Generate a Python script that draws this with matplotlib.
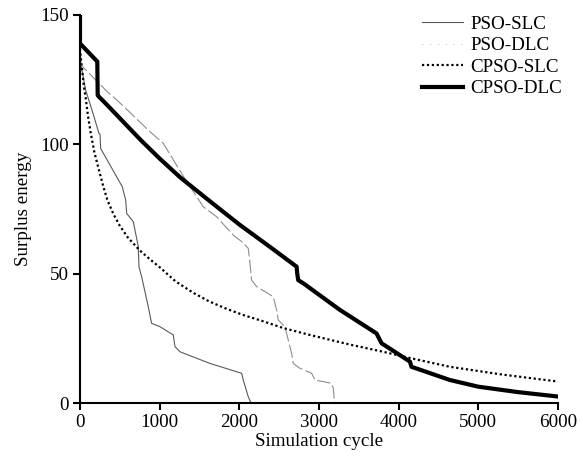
import matplotlib
matplotlib.use("Agg")
import matplotlib.pyplot as plt
from matplotlib.lines import Line2D

plt.rcParams['font.family'] = ['Liberation Serif', 'DejaVu Serif']
plt.rcParams['font.size'] = 13.7

# PSO-SLC (thin grey solid)
pso_slc_x = [0, 10, 71, 176, 238, 251, 259, 531, 573, 586, 669, 732, 740, 774, 857, 899,
             1004, 1171, 1192, 1255, 1631, 2029, 2049, 2112, 2140, 2150]
pso_slc_y = [139, 131, 121, 110.7, 104.2, 104, 98.4, 83.6, 78.5, 73.3, 70.1, 60.4, 52.7, 48.8,
             37.2, 30.8, 29.5, 26.3, 21.8, 19.8, 15.3, 11.5, 8.9, 2.4, 0.5, 0]

# PSO-DLC (grey dashed)
pso_dlc_x = [0, 5, 50, 343, 468, 878, 1045, 1300, 1547, 1715, 1924, 2029, 2112, 2140, 2154,
             2217, 2426, 2468, 2488, 2572, 2656, 2677, 2761, 2907, 2949, 3158, 3179, 3192, 3200]
pso_dlc_y = [139, 131, 129.5, 120.3, 117, 104.9, 100.4, 87.5, 75.9, 72, 64.9, 62.4, 59.8, 52,
             47.5, 45, 41.1, 35.9, 32.1, 29.5, 19.2, 15.3, 13.4, 11.5, 8.9, 7.6, 5.7, 1.2, 0]

# CPSO-SLC (dotted)
cpso_slc_x = [0, 15, 30, 50, 71, 100, 134, 180, 238, 290, 343, 420, 500, 600, 750, 880, 1000,
              1200, 1422, 1620, 1840, 2050, 2259, 2550, 2886, 3400, 3806, 4200, 4642, 5300, 6000]
cpso_slc_y = [137, 132, 128, 122, 118, 111, 104.5, 97, 90, 84, 78.5, 73, 68.5, 64, 59, 55.5,
              52.5, 47, 42.6, 39.3, 36.4, 34, 32, 29, 26.3, 22.5, 19.8, 17, 14, 11, 8.3]

# CPSO-DLC (thick black)
cpso_dlc_x = [0, 0, 217, 222, 238, 322, 761, 1000, 1255, 1590, 2000, 2400, 2719, 2727, 2739,
              2802, 3262, 3722, 3785, 4141, 4161, 4642, 5000, 5500, 6000]
cpso_dlc_y = [150, 139, 132, 119, 118.4, 115.8, 101.7, 94.5, 87.3, 79, 69, 60, 52.7, 50,
              47.5, 46.3, 36, 26.9, 23.1, 16, 14, 8.9, 6.3, 4.2, 2.5]

fig = plt.figure(figsize=(5.83, 4.59), dpi=100)
ax = fig.add_axes([80/583, 1 - 403/459, 478/583, 388/459])

ax.plot(pso_slc_x, pso_slc_y, color='#5a5a5a', lw=0.8)
l_dlc, = ax.plot(pso_dlc_x, pso_dlc_y, color='#8c8c8c', lw=0.8)
l_dlc.set_dashes((12, 3))
ax.plot(cpso_slc_x, cpso_slc_y, color='black', lw=1.6, linestyle=(0, (1, 1.2)))
ax.plot(cpso_dlc_x, cpso_dlc_y, color='black', lw=3)

ax.set_xlim(0, 6000)
ax.set_ylim(0, 150)
ax.set_xticks(range(0, 6001, 1000))
ax.set_yticks([0, 50, 100, 150])
ax.spines['top'].set_visible(False)
ax.spines['right'].set_visible(False)
ax.spines['left'].set_linewidth(1.5)
ax.spines['bottom'].set_linewidth(1.5)
ax.tick_params(direction='out', length=5, width=1.5, pad=3)
ax.set_xlabel("Simulation cycle", labelpad=1)
ax.set_ylabel("Surplus energy", labelpad=6)

handles = [
    Line2D([], [], color='#5a5a5a', lw=0.8),
    Line2D([], [], color='#c8c8c8', lw=0.8, linestyle=(0, (1, 6))),
    Line2D([], [], color='black', lw=1.6, linestyle=(0, (1, 1.2))),
    Line2D([], [], color='black', lw=3),
]
labels = ["PSO-SLC", "PSO-DLC", "CPSO-SLC", "CPSO-DLC"]
fig.legend(handles, labels, loc='upper left', bbox_to_anchor=(412/583, 1 - 6/459),
           frameon=False, borderpad=0, handlelength=2.2, handletextpad=0.35,
           labelspacing=0.22, fontsize=13.7)

fig.savefig("out.png", dpi=100)
